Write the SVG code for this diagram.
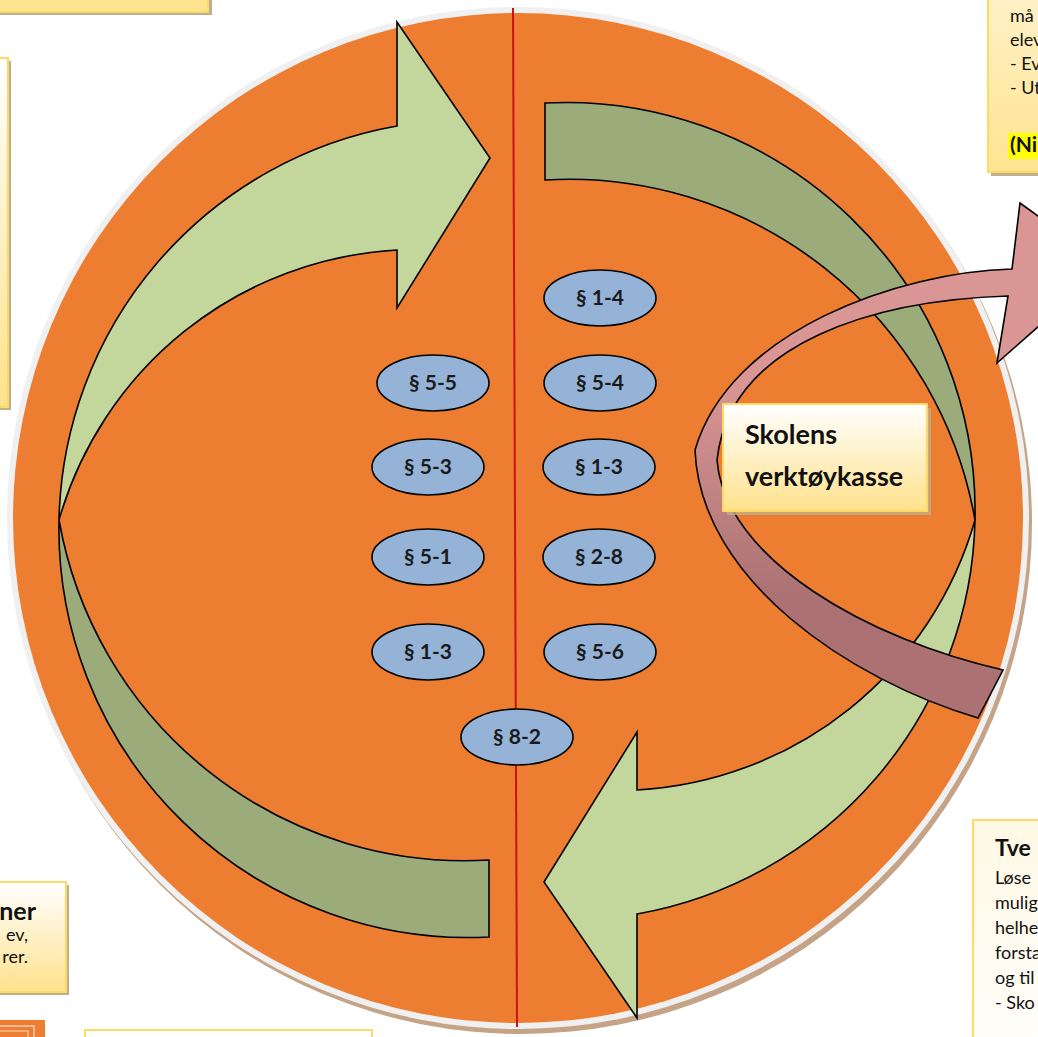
<svg xmlns="http://www.w3.org/2000/svg" width="1038" height="1037" viewBox="0 0 1038 1037">
<defs>
<linearGradient id="gBox" x1="0" y1="0" x2="0" y2="1"><stop offset="0" stop-color="#FFFFFF"/><stop offset="1" stop-color="#FFE28C"/></linearGradient>
<linearGradient id="gBoxY" x1="0" y1="0" x2="0" y2="1"><stop offset="0" stop-color="#FFF3CC"/><stop offset="1" stop-color="#FFE390"/></linearGradient>
<linearGradient id="gBoxL" x1="0" y1="0" x2="0" y2="1"><stop offset="0" stop-color="#FFF8E4"/><stop offset="1" stop-color="#FFFEFA"/></linearGradient>
<linearGradient id="gPink" gradientUnits="userSpaceOnUse" x1="0" y1="380" x2="0" y2="600"><stop offset="0" stop-color="#D99694"/><stop offset="1" stop-color="#AB7173"/></linearGradient>
</defs>
<style>
.box{stroke:#FFD966;stroke-width:2}
.shadow{fill:#BDB08A}
.ar{stroke:#000;stroke-width:1.6;stroke-linejoin:miter}
.front{fill:#C3D69B}
.back{fill:#9BAB7A}
.para ellipse{fill:#95B3D7;stroke:#000;stroke-width:1.6}
.para text{font-family:Lato,"Open Sans",sans-serif;font-weight:bold;font-size:21px;text-anchor:middle;fill:#1a1a1a}
.t{font-family:Lato,"Open Sans",sans-serif;font-size:18px;fill:#111}
.tb{font-family:Lato,"Open Sans",sans-serif;font-weight:bold;fill:#111}
</style>
<rect width="1038" height="1037" fill="#FFFFFF"/>

<!-- side text boxes -->
<g id="box-topleft">
<rect class="shadow" x="-1" y="-7" width="213" height="22"/>
<rect class="box" x="-5" y="-10" width="213" height="22" fill="#FFE48F"/>
</g>
<g id="box-left">
<rect class="shadow" x="-7" y="61" width="18" height="349"/>
<rect class="box" x="-10" y="58" width="18" height="349" fill="url(#gBox)"/>
</g>
<g id="box-topright">
<rect class="shadow" x="991" y="-16" width="60" height="192"/>
<rect class="box" x="988" y="-20" width="60" height="192" fill="url(#gBoxY)"/>
<rect x="1008" y="133" width="35" height="26" fill="#FFFF00"/>
<text class="t" x="1010" y="22">må</text>
<text class="t" x="1010" y="46">elev</text>
<text class="t" x="1010" y="70">- Ev</text>
<text class="t" x="1010" y="94">- Ut</text>
<text class="tb" x="1010" y="152" font-size="21">(Ni</text>
</g>
<g id="box-bottomleft">
<rect class="shadow" x="-7" y="885" width="76" height="110"/>
<rect class="box" x="-10" y="882" width="76" height="110" fill="url(#gBox)"/>
<text class="tb" x="36" y="920" font-size="25" text-anchor="end">ner</text>
<text class="t" x="28" y="941" text-anchor="end">ev,</text>
<text class="t" x="28" y="963" text-anchor="end">rer.</text>
</g>
<g id="icon-bottomleft">
<rect x="-5" y="1020" width="50" height="25" fill="#ED7D31"/>
<rect x="-5" y="1026" width="39" height="20" fill="none" stroke="#F8CBAD" stroke-width="1.5"/>
<rect x="-5" y="1031" width="33" height="20" fill="none" stroke="#FBE0CC" stroke-width="1"/>
</g>
<g id="box-bottom">
<rect class="box" x="85" y="1030" width="287" height="20" fill="#FFFFFF"/>
</g>
<g id="box-right">
<rect class="box" x="973" y="820" width="80" height="230" fill="url(#gBoxL)"/>
<text class="tb" x="995" y="856" font-size="23">Tve</text>
<text class="t" x="995" y="884">Løse</text>
<text class="t" x="995" y="909">mulig</text>
<text class="t" x="995" y="934">helhe</text>
<text class="t" x="995" y="959">forsta</text>
<text class="t" x="995" y="984">og til</text>
<text class="t" x="995" y="1009">- Sko</text>
</g>

<!-- big circle -->
<g id="cycle-disc">
<circle cx="521" cy="523" r="511" fill="#C4A386"/>
<circle cx="518" cy="518" r="511" fill="#F0F0F0"/>
<circle cx="518" cy="518" r="505" fill="#ED7D31"/>
</g>

<g id="connectors">
<line x1="513" y1="8" x2="517" y2="1027" stroke="#C81414" stroke-width="2"/>
</g>

<g id="arrow-left">
<path class="ar back" d="M59,520 A409,409 0 0 0 489,937 L489,860 A412,412 0 0 1 59,520 Z"/>
<path class="ar front" d="M59,520 A409,409 0 0 1 397,126 L397,22 L490,158 L397,308 L397,250 A373,373 0 0 0 59,520 Z"/>
</g>
<g id="arrow-right" transform="rotate(180 517 520)">
<path class="ar back" d="M59,520 A409,409 0 0 0 489,937 L489,860 A412,412 0 0 1 59,520 Z"/>
<path class="ar front" d="M59,520 A409,409 0 0 1 397,126 L397,22 L490,158 L397,308 L397,250 A373,373 0 0 0 59,520 Z"/>
</g>

<g id="arrow-pink">
<path class="ar" fill="url(#gPink)" d="M1012,269 L1020,203 L1107,266 L997,363 L1008,296 C880,300 730,340 717,460 C725,560 870,640 1003,670 L978,718 C850,680 700,580 695,450 C730,330 900,272 1012,269 Z"/>
</g>

<g id="p14" class="para"><ellipse cx="600" cy="298" rx="56" ry="28"/><text x="600" y="305">§ 1-4</text></g>
<g id="p55" class="para"><ellipse cx="433" cy="383" rx="56" ry="28"/><text x="433" y="390">§ 5-5</text></g>
<g id="p54" class="para"><ellipse cx="600" cy="383" rx="56" ry="28"/><text x="600" y="390">§ 5-4</text></g>
<g id="p53" class="para"><ellipse cx="428" cy="467" rx="56" ry="28"/><text x="428" y="474">§ 5-3</text></g>
<g id="p13r" class="para"><ellipse cx="599" cy="467" rx="56" ry="28"/><text x="599" y="474">§ 1-3</text></g>
<g id="p51" class="para"><ellipse cx="428" cy="557" rx="56" ry="28"/><text x="428" y="564">§ 5-1</text></g>
<g id="p28" class="para"><ellipse cx="599" cy="557" rx="56" ry="28"/><text x="599" y="564">§ 2-8</text></g>
<g id="p13l" class="para"><ellipse cx="428" cy="652" rx="56" ry="28"/><text x="428" y="659">§ 1-3</text></g>
<g id="p56" class="para"><ellipse cx="600" cy="652" rx="56" ry="28"/><text x="600" y="659">§ 5-6</text></g>
<g id="p82" class="para"><ellipse cx="517" cy="737" rx="56" ry="28"/><text x="517" y="744">§ 8-2</text></g>

<g id="toolbox">
<rect class="shadow" x="727" y="408" width="204" height="107" opacity="0.8"/>
<rect class="box" x="723" y="404" width="204" height="107" fill="url(#gBox)"/>
<text class="tb" x="745" y="444" font-size="27">Skolens</text>
<text class="tb" x="745" y="486" font-size="27">verktøykasse</text>
</g>
</svg>
